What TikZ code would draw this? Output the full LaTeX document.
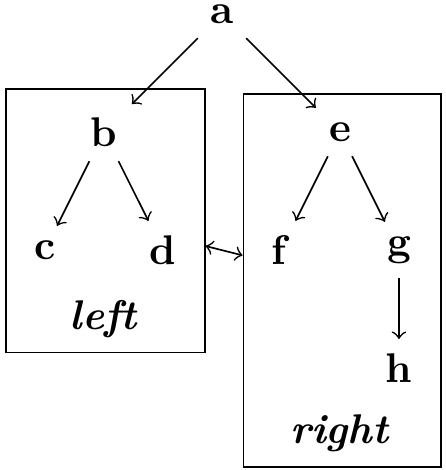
\documentclass[tikz,border=0pt]{standalone}
\usetikzlibrary{fit}
\begin{document}
\begin{tikzpicture}[>=to]

\useasboundingbox (-1.881,0.119) rectangle (1.898,-3.864);

% tree nodes
\node (a) at (0,0) {\textbf{a}};
\node (b) at (-1,-1) {\textbf{b}};
\node (e) at (1,-1) {\textbf{e}};
\node (c) at (-1.5,-2) {\textbf{c}};
\node (d) at (-0.5,-2) {\textbf{d}};
\node (f) at (0.5,-2) {\textbf{f}};
\node (g) at (1.5,-2) {\textbf{g}};
\node (h) at (1.5,-3) {\textbf{h}};

% box labels
\node[inner sep=0pt] (leftlbl) at (-1,-2.585) {\textbf{\textit{left}}};
\node[inner sep=0pt] (rightlbl) at (1,-3.555) {\textbf{\textit{right}}};

% boxes
\node[draw,fit=(b)(c)(d)(leftlbl)] (leftbox) {};
\node[draw,fit=(e)(f)(g)(h)(rightlbl)] (rightbox) {};

\foreach \p/\q in {a/b,a/e,b/c,b/d,e/f,e/g,g/h}
	\draw[->] (\p) -- (\q);

\draw[<->] (leftbox) -- (rightbox);

\end{tikzpicture}
\end{document}
